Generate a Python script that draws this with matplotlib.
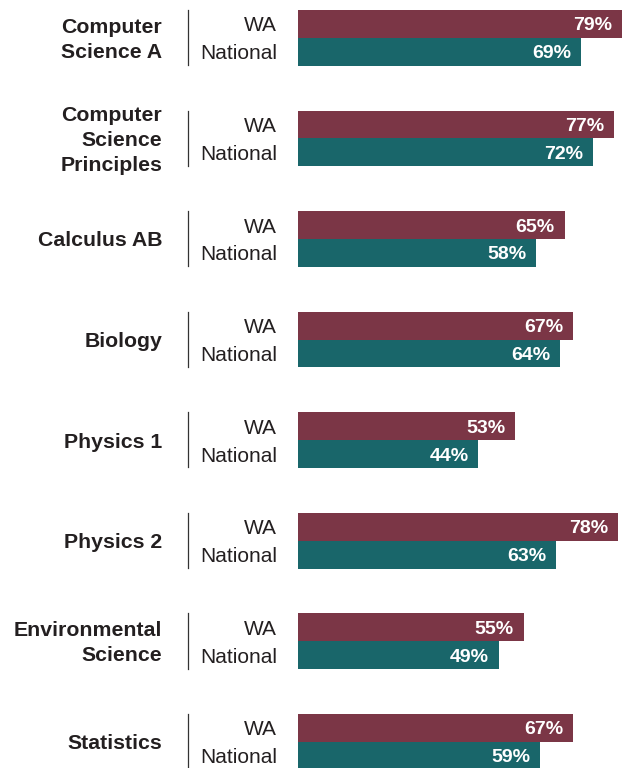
import numpy as np
import matplotlib
matplotlib.use("Agg")
import matplotlib.pyplot as plt

subjects = ["Computer\nScience A", "Computer\nScience\nPrinciples", "Calculus AB",
            "Biology", "Physics 1", "Physics 2", "Environmental\nScience", "Statistics"]
wa = [79, 77, 65, 67, 53, 78, 55, 67]
national = [69, 72, 58, 64, 44, 63, 49, 59]
series_names = ["WA", "National"]

wa_color = "#7b3646"
nat_color = "#19666a"
text_color = "#231f20"

plt.rcParams['font.family'] = ['Liberation Sans', 'DejaVu Sans']

fig = plt.figure(figsize=(6.24, 7.68), dpi=100)
# axes: x=0 sits at 298px, 4.1 px per percent
ax = fig.add_axes([298 / 624, 0, 326 / 624, 1])
ax.set_xlim(0, 326 / 4.1)
ax.set_ylim(7.26, -0.376)
ax.axis("off")

y = np.arange(len(subjects))
h = 0.277
dy = 0.02  # nudge text down a touch
ax.barh(y - h / 2, wa, height=h, color=wa_color)
ax.barh(y + h / 2, national, height=h, color=nat_color)

for i in range(len(subjects)):
    for val, off in ((wa[i], -h / 2), (national[i], h / 2)):
        ax.annotate(f"{val}%", (val, i + off + dy), xytext=(-7, 0), textcoords="offset points",
                    ha="right", va="center", color="white", fontsize=14, fontweight="bold")

tr = ax.get_yaxis_transform()
for i, name in enumerate(subjects):
    ax.text(-136 / 326, i + dy, name, transform=tr, ha="right", va="center",
            fontsize=15.3, fontweight="bold", color=text_color, linespacing=1.4)
    ax.text(-21 / 326, i - h / 2 + dy, series_names[0], transform=tr, ha="right", va="center",
            fontsize=15, color=text_color)
    ax.text(-21 / 326, i + h / 2 + dy, series_names[1], transform=tr, ha="right", va="center",
            fontsize=15, color=text_color)
    ax.plot([-110 / 326, -110 / 326], [i - h, i + h * 0.98], transform=tr,
            color="#333333", lw=0.9, clip_on=False)

fig.savefig("out.png", dpi=100)
